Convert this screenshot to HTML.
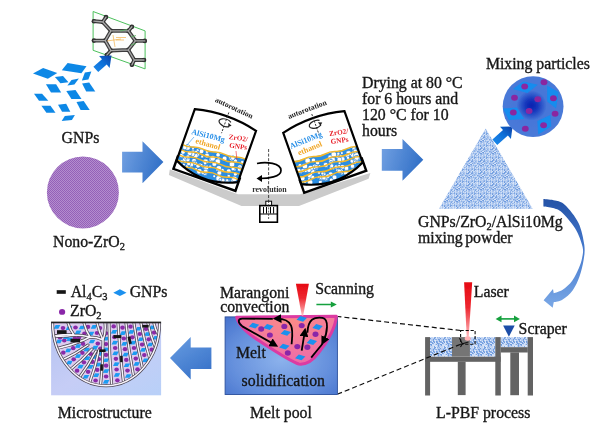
<!DOCTYPE html>
<html>
<head>
<meta charset="utf-8">
<title>Schematic</title>
<style>
html,body{margin:0;padding:0;background:#fff;}
body{width:610px;height:433px;overflow:hidden;font-family:"Liberation Serif",serif;}
svg{display:block;}
text{font-family:"Liberation Serif",serif;fill:#161616;}
.b{font-weight:bold;}
</style>
</head>
<body>
<svg width="610" height="433" viewBox="0 0 610 433">
<defs>
  <filter id="soft" x="-5%" y="-5%" width="110%" height="110%"><feGaussianBlur stdDeviation="0.55"/></filter>
  <filter id="soft2" x="-5%" y="-5%" width="110%" height="110%"><feGaussianBlur stdDeviation="0.7"/></filter>
  <linearGradient id="gArrR" x1="0" y1="0" x2="1" y2="0.3">
    <stop offset="0" stop-color="#74a2e3"/>
    <stop offset="1" stop-color="#3472c8"/>
  </linearGradient>
  <linearGradient id="gArrL" x1="0" y1="0" x2="0.6" y2="1">
    <stop offset="0" stop-color="#6a9ee2"/>
    <stop offset="1" stop-color="#3a74ca"/>
  </linearGradient>
  <linearGradient id="gSmall" x1="0" y1="1" x2="1" y2="0">
    <stop offset="0" stop-color="#1a8cee"/>
    <stop offset="0.55" stop-color="#0f6fd8"/>
    <stop offset="1" stop-color="#0a3fa4"/>
  </linearGradient>
  <radialGradient id="gMix" cx="531.6" cy="105.5" r="30" gradientUnits="userSpaceOnUse">
    <stop offset="0" stop-color="#0820b0"/>
    <stop offset="0.2" stop-color="#1436bc"/>
    <stop offset="0.5" stop-color="#4676d8"/>
    <stop offset="1" stop-color="#4a7ad8"/>
  </radialGradient>
  <pattern id="pPurple" width="2" height="2" patternUnits="userSpaceOnUse">
    <rect width="2" height="2" fill="#b48dce"/>
    <rect width="1" height="1" fill="#9461b8"/>
    <rect x="1" y="1" width="1" height="1" fill="#9461b8"/>
  </pattern>
  <pattern id="pTri" width="12" height="12" patternUnits="userSpaceOnUse"><rect width="12" height="12" fill="#a9c4ee"/><rect x="0" y="0" width="1" height="1" fill="#b9cff1"/><rect x="1" y="0" width="1" height="1" fill="#b9cff1"/><rect x="2" y="0" width="1" height="1" fill="#b9cff1"/><rect x="4" y="0" width="1" height="1" fill="#8fb3e8"/><rect x="5" y="0" width="1" height="1" fill="#b9cff1"/><rect x="6" y="0" width="1" height="1" fill="#8fb3e8"/><rect x="7" y="0" width="1" height="1" fill="#c9dbf5"/><rect x="8" y="0" width="1" height="1" fill="#b9cff1"/><rect x="9" y="0" width="1" height="1" fill="#d6e3f8"/><rect x="10" y="0" width="1" height="1" fill="#8fb3e8"/><rect x="11" y="0" width="1" height="1" fill="#c9dbf5"/><rect x="0" y="1" width="1" height="1" fill="#7ba5e2"/><rect x="2" y="1" width="1" height="1" fill="#b9cff1"/><rect x="3" y="1" width="1" height="1" fill="#8fb3e8"/><rect x="4" y="1" width="1" height="1" fill="#7ba5e2"/><rect x="5" y="1" width="1" height="1" fill="#c9dbf5"/><rect x="6" y="1" width="1" height="1" fill="#7ba5e2"/><rect x="7" y="1" width="1" height="1" fill="#7ba5e2"/><rect x="10" y="1" width="1" height="1" fill="#7ba5e2"/><rect x="11" y="1" width="1" height="1" fill="#b9cff1"/><rect x="0" y="2" width="1" height="1" fill="#6f9cde"/><rect x="1" y="2" width="1" height="1" fill="#b9cff1"/><rect x="4" y="2" width="1" height="1" fill="#d6e3f8"/><rect x="5" y="2" width="1" height="1" fill="#b9cff1"/><rect x="6" y="2" width="1" height="1" fill="#7ba5e2"/><rect x="7" y="2" width="1" height="1" fill="#c9dbf5"/><rect x="8" y="2" width="1" height="1" fill="#b9cff1"/><rect x="9" y="2" width="1" height="1" fill="#d6e3f8"/><rect x="11" y="2" width="1" height="1" fill="#c9dbf5"/><rect x="0" y="3" width="1" height="1" fill="#d6e3f8"/><rect x="1" y="3" width="1" height="1" fill="#6f9cde"/><rect x="3" y="3" width="1" height="1" fill="#d6e3f8"/><rect x="4" y="3" width="1" height="1" fill="#7ba5e2"/><rect x="5" y="3" width="1" height="1" fill="#c9dbf5"/><rect x="6" y="3" width="1" height="1" fill="#c9dbf5"/><rect x="8" y="3" width="1" height="1" fill="#c9dbf5"/><rect x="9" y="3" width="1" height="1" fill="#d6e3f8"/><rect x="11" y="3" width="1" height="1" fill="#c9dbf5"/><rect x="0" y="4" width="1" height="1" fill="#7ba5e2"/><rect x="1" y="4" width="1" height="1" fill="#7ba5e2"/><rect x="4" y="4" width="1" height="1" fill="#7ba5e2"/><rect x="5" y="4" width="1" height="1" fill="#b9cff1"/><rect x="9" y="4" width="1" height="1" fill="#c9dbf5"/><rect x="11" y="4" width="1" height="1" fill="#d6e3f8"/><rect x="0" y="5" width="1" height="1" fill="#6f9cde"/><rect x="1" y="5" width="1" height="1" fill="#c9dbf5"/><rect x="2" y="5" width="1" height="1" fill="#d6e3f8"/><rect x="3" y="5" width="1" height="1" fill="#6f9cde"/><rect x="4" y="5" width="1" height="1" fill="#7ba5e2"/><rect x="6" y="5" width="1" height="1" fill="#c9dbf5"/><rect x="7" y="5" width="1" height="1" fill="#8fb3e8"/><rect x="9" y="5" width="1" height="1" fill="#c9dbf5"/><rect x="10" y="5" width="1" height="1" fill="#7ba5e2"/><rect x="11" y="5" width="1" height="1" fill="#7ba5e2"/><rect x="0" y="6" width="1" height="1" fill="#b9cff1"/><rect x="1" y="6" width="1" height="1" fill="#b9cff1"/><rect x="2" y="6" width="1" height="1" fill="#8fb3e8"/><rect x="4" y="6" width="1" height="1" fill="#b9cff1"/><rect x="6" y="6" width="1" height="1" fill="#8fb3e8"/><rect x="9" y="6" width="1" height="1" fill="#c9dbf5"/><rect x="1" y="7" width="1" height="1" fill="#7ba5e2"/><rect x="2" y="7" width="1" height="1" fill="#d6e3f8"/><rect x="3" y="7" width="1" height="1" fill="#d6e3f8"/><rect x="4" y="7" width="1" height="1" fill="#7ba5e2"/><rect x="6" y="7" width="1" height="1" fill="#8fb3e8"/><rect x="8" y="7" width="1" height="1" fill="#c9dbf5"/><rect x="9" y="7" width="1" height="1" fill="#7ba5e2"/><rect x="10" y="7" width="1" height="1" fill="#8fb3e8"/><rect x="0" y="8" width="1" height="1" fill="#b9cff1"/><rect x="1" y="8" width="1" height="1" fill="#d6e3f8"/><rect x="2" y="8" width="1" height="1" fill="#7ba5e2"/><rect x="3" y="8" width="1" height="1" fill="#6f9cde"/><rect x="4" y="8" width="1" height="1" fill="#d6e3f8"/><rect x="6" y="8" width="1" height="1" fill="#c9dbf5"/><rect x="7" y="8" width="1" height="1" fill="#c9dbf5"/><rect x="8" y="8" width="1" height="1" fill="#c9dbf5"/><rect x="11" y="8" width="1" height="1" fill="#7ba5e2"/><rect x="0" y="9" width="1" height="1" fill="#6f9cde"/><rect x="1" y="9" width="1" height="1" fill="#6f9cde"/><rect x="2" y="9" width="1" height="1" fill="#b9cff1"/><rect x="3" y="9" width="1" height="1" fill="#8fb3e8"/><rect x="4" y="9" width="1" height="1" fill="#b9cff1"/><rect x="5" y="9" width="1" height="1" fill="#8fb3e8"/><rect x="7" y="9" width="1" height="1" fill="#8fb3e8"/><rect x="8" y="9" width="1" height="1" fill="#8fb3e8"/><rect x="9" y="9" width="1" height="1" fill="#d6e3f8"/><rect x="1" y="10" width="1" height="1" fill="#8fb3e8"/><rect x="4" y="10" width="1" height="1" fill="#b9cff1"/><rect x="5" y="10" width="1" height="1" fill="#c9dbf5"/><rect x="7" y="10" width="1" height="1" fill="#7ba5e2"/><rect x="8" y="10" width="1" height="1" fill="#c9dbf5"/><rect x="9" y="10" width="1" height="1" fill="#c9dbf5"/><rect x="10" y="10" width="1" height="1" fill="#7ba5e2"/><rect x="11" y="10" width="1" height="1" fill="#d6e3f8"/><rect x="2" y="11" width="1" height="1" fill="#d6e3f8"/><rect x="4" y="11" width="1" height="1" fill="#b9cff1"/><rect x="5" y="11" width="1" height="1" fill="#d6e3f8"/><rect x="6" y="11" width="1" height="1" fill="#8fb3e8"/><rect x="7" y="11" width="1" height="1" fill="#c9dbf5"/><rect x="8" y="11" width="1" height="1" fill="#8fb3e8"/><rect x="10" y="11" width="1" height="1" fill="#b9cff1"/><rect x="11" y="11" width="1" height="1" fill="#c9dbf5"/></pattern>
  <pattern id="pPow" width="10" height="10" patternUnits="userSpaceOnUse"><rect width="10" height="10" fill="#b4cbf0"/><rect x="0" y="0" width="1" height="1" fill="#dfe9fa"/><rect x="3" y="0" width="1" height="1" fill="#7ba5e2"/><rect x="4" y="0" width="1" height="1" fill="#d2e0f7"/><rect x="5" y="0" width="1" height="1" fill="#dfe9fa"/><rect x="7" y="0" width="1" height="1" fill="#c2d5f3"/><rect x="9" y="0" width="1" height="1" fill="#7ba5e2"/><rect x="0" y="1" width="1" height="1" fill="#7ba5e2"/><rect x="1" y="1" width="1" height="1" fill="#8fb3e8"/><rect x="2" y="1" width="1" height="1" fill="#dfe9fa"/><rect x="3" y="1" width="1" height="1" fill="#6f9cde"/><rect x="4" y="1" width="1" height="1" fill="#8fb3e8"/><rect x="5" y="1" width="1" height="1" fill="#d2e0f7"/><rect x="6" y="1" width="1" height="1" fill="#6f9cde"/><rect x="7" y="1" width="1" height="1" fill="#8fb3e8"/><rect x="8" y="1" width="1" height="1" fill="#c2d5f3"/><rect x="9" y="1" width="1" height="1" fill="#6f9cde"/><rect x="0" y="2" width="1" height="1" fill="#8fb3e8"/><rect x="1" y="2" width="1" height="1" fill="#7ba5e2"/><rect x="2" y="2" width="1" height="1" fill="#7ba5e2"/><rect x="3" y="2" width="1" height="1" fill="#c2d5f3"/><rect x="4" y="2" width="1" height="1" fill="#6f9cde"/><rect x="5" y="2" width="1" height="1" fill="#dfe9fa"/><rect x="6" y="2" width="1" height="1" fill="#7ba5e2"/><rect x="7" y="2" width="1" height="1" fill="#7ba5e2"/><rect x="8" y="2" width="1" height="1" fill="#d2e0f7"/><rect x="9" y="2" width="1" height="1" fill="#c2d5f3"/><rect x="0" y="3" width="1" height="1" fill="#d2e0f7"/><rect x="1" y="3" width="1" height="1" fill="#dfe9fa"/><rect x="2" y="3" width="1" height="1" fill="#6f9cde"/><rect x="3" y="3" width="1" height="1" fill="#8fb3e8"/><rect x="4" y="3" width="1" height="1" fill="#d2e0f7"/><rect x="5" y="3" width="1" height="1" fill="#d2e0f7"/><rect x="6" y="3" width="1" height="1" fill="#c2d5f3"/><rect x="7" y="3" width="1" height="1" fill="#6f9cde"/><rect x="8" y="3" width="1" height="1" fill="#7ba5e2"/><rect x="9" y="3" width="1" height="1" fill="#8fb3e8"/><rect x="0" y="4" width="1" height="1" fill="#6f9cde"/><rect x="1" y="4" width="1" height="1" fill="#6f9cde"/><rect x="2" y="4" width="1" height="1" fill="#d2e0f7"/><rect x="3" y="4" width="1" height="1" fill="#c2d5f3"/><rect x="4" y="4" width="1" height="1" fill="#d2e0f7"/><rect x="6" y="4" width="1" height="1" fill="#7ba5e2"/><rect x="7" y="4" width="1" height="1" fill="#c2d5f3"/><rect x="8" y="4" width="1" height="1" fill="#7ba5e2"/><rect x="1" y="5" width="1" height="1" fill="#7ba5e2"/><rect x="2" y="5" width="1" height="1" fill="#d2e0f7"/><rect x="3" y="5" width="1" height="1" fill="#d2e0f7"/><rect x="4" y="5" width="1" height="1" fill="#d2e0f7"/><rect x="5" y="5" width="1" height="1" fill="#d2e0f7"/><rect x="6" y="5" width="1" height="1" fill="#dfe9fa"/><rect x="8" y="5" width="1" height="1" fill="#6f9cde"/><rect x="0" y="6" width="1" height="1" fill="#c2d5f3"/><rect x="1" y="6" width="1" height="1" fill="#c2d5f3"/><rect x="2" y="6" width="1" height="1" fill="#c2d5f3"/><rect x="3" y="6" width="1" height="1" fill="#d2e0f7"/><rect x="4" y="6" width="1" height="1" fill="#7ba5e2"/><rect x="5" y="6" width="1" height="1" fill="#dfe9fa"/><rect x="6" y="6" width="1" height="1" fill="#d2e0f7"/><rect x="7" y="6" width="1" height="1" fill="#c2d5f3"/><rect x="8" y="6" width="1" height="1" fill="#7ba5e2"/><rect x="0" y="7" width="1" height="1" fill="#d2e0f7"/><rect x="1" y="7" width="1" height="1" fill="#c2d5f3"/><rect x="2" y="7" width="1" height="1" fill="#c2d5f3"/><rect x="3" y="7" width="1" height="1" fill="#dfe9fa"/><rect x="4" y="7" width="1" height="1" fill="#7ba5e2"/><rect x="5" y="7" width="1" height="1" fill="#6f9cde"/><rect x="6" y="7" width="1" height="1" fill="#dfe9fa"/><rect x="7" y="7" width="1" height="1" fill="#8fb3e8"/><rect x="9" y="7" width="1" height="1" fill="#8fb3e8"/><rect x="0" y="8" width="1" height="1" fill="#6f9cde"/><rect x="1" y="8" width="1" height="1" fill="#c2d5f3"/><rect x="2" y="8" width="1" height="1" fill="#c2d5f3"/><rect x="4" y="8" width="1" height="1" fill="#6f9cde"/><rect x="6" y="8" width="1" height="1" fill="#dfe9fa"/><rect x="3" y="9" width="1" height="1" fill="#6f9cde"/><rect x="5" y="9" width="1" height="1" fill="#8fb3e8"/><rect x="6" y="9" width="1" height="1" fill="#8fb3e8"/><rect x="7" y="9" width="1" height="1" fill="#c2d5f3"/><rect x="8" y="9" width="1" height="1" fill="#6f9cde"/><rect x="9" y="9" width="1" height="1" fill="#7ba5e2"/></pattern>
  <radialGradient id="gMelt" cx="0.5" cy="0.55" r="0.75">
    <stop offset="0" stop-color="#8cb2ec"/>
    <stop offset="0.6" stop-color="#648fdc"/>
    <stop offset="1" stop-color="#4470cc"/>
  </radialGradient>
  <linearGradient id="gLaser" x1="0" y1="0" x2="0" y2="1">
    <stop offset="0" stop-color="#e60a14"/>
    <stop offset="0.45" stop-color="#ee2830"/>
    <stop offset="1" stop-color="#ffc0c4"/>
  </linearGradient>
  <radialGradient id="gPink" cx="0.55" cy="0.1" r="0.9">
    <stop offset="0" stop-color="#fb8a88"/>
    <stop offset="0.5" stop-color="#f47a9c"/>
    <stop offset="1" stop-color="#ee6aa8"/>
  </radialGradient>
  <linearGradient id="gCurve" x1="0" y1="0" x2="0" y2="1">
    <stop offset="0" stop-color="#2452a6"/>
    <stop offset="0.45" stop-color="#4478cc"/>
    <stop offset="1" stop-color="#7aa8e6"/>
  </linearGradient>
  <linearGradient id="gMicro" x1="0" y1="0" x2="1" y2="1">
    <stop offset="0" stop-color="#b4c2f0"/>
    <stop offset="0.5" stop-color="#c6cdf6"/>
    <stop offset="1" stop-color="#b8d0f8"/>
  </linearGradient>
  <clipPath id="jarClip"><path d="M0,0 Q32.5,-8 65,0 L65,54.5 Q32.5,70.5 0,54.5 Z"/></clipPath>
  <clipPath id="semiClip"><path d="M52.6,322.8 A53.5,63 0 0 0 159.6,322.8 Z"/></clipPath>
  <marker id="ah" viewBox="0 0 10 10" refX="6" refY="5" markerWidth="4.9" markerHeight="4.9" orient="auto-start-reverse"><path d="M0,0 L10,5 L0,10 Z" fill="#000"/></marker>
</defs>
<rect width="610" height="433" fill="#ffffff"/>
<g filter="url(#soft)">

<g id="flakes">
<polygon points="33.0,73.6 43.1,68.0 57.3,73.1 47.8,78.8" fill="#0f88e6" />
<polygon points="67.6,63.0 86.5,66.2 81.4,73.2 61.8,70.3" fill="#0f88e6" />
<polygon points="54.9,77.1 63.0,76.1 68.5,82.2 60.4,83.2" fill="#0f88e6" />
<polygon points="71.5,79.9 78.9,78.5 74.4,84.4 67.4,85.6" fill="#0f88e6" />
<polygon points="84.9,72.4 91.4,71.4 88.4,79.5 81.9,80.5" fill="#0f88e6" />
<polygon points="45.9,84.3 56.1,84.3 61.2,92.5 51.0,92.5" fill="#0f88e6" />
<polygon points="82.1,83.5 89.2,82.5 95.3,91.6 86.2,91.6" fill="#0f88e6" />
<polygon points="66.3,90.9 75.5,89.9 81.5,99.0 71.4,99.0" fill="#0f88e6" />
<polygon points="34.0,93.7 42.1,93.7 48.3,100.7 39.0,100.7" fill="#0f88e6" />
<polygon points="76.5,102.0 83.7,101.0 89.7,110.1 80.6,110.1" fill="#0f88e6" />
<polygon points="41.4,105.7 50.5,105.7 55.5,112.7 46.4,112.7" fill="#0f88e6" />
<polygon points="58.0,104.7 66.2,103.7 70.3,111.8 62.1,111.8" fill="#0f88e6" />
<polygon points="64.8,115.9 74.9,114.9 71.9,120.0 61.7,121.1" fill="#0f88e6" />
</g>
<g id="lattice">
<polygon points="93.1,11.5 145.1,30.9 145.1,68.9 93.1,50.3" fill="#fdfefd" stroke="#4cc05c" stroke-width="1"/>
<path d="M105.2,40.6 L110.9,30.9 M110.9,30.9 L128.3,30.9 M128.3,30.9 L135.4,40.9 M135.4,40.9 L128.3,49.9 M128.3,49.9 L110.9,50.6 M110.9,50.6 L105.2,40.6 M110.9,30.9 L102.8,22.0 M102.8,22.0 L93.9,21.2 M102.8,22.0 L106.0,17.1 M105.2,40.6 L93.9,40.6 M110.9,50.6 L106.8,55.1 M128.3,30.9 L131.9,26.8 M135.4,40.9 L144.8,40.9 M128.3,49.9 L134.3,60.0 M134.3,60.0 L144.0,60.0 M134.3,60.0 L131.9,64.8" stroke="#3e3e3e" stroke-width="3.8" stroke-linecap="round" fill="none"/>
<circle cx="105.2" cy="40.6" r="2.3" fill="#303030"/>
<circle cx="110.9" cy="30.9" r="2.3" fill="#303030"/>
<circle cx="128.3" cy="30.9" r="2.3" fill="#303030"/>
<circle cx="135.4" cy="40.9" r="2.3" fill="#303030"/>
<circle cx="128.3" cy="49.9" r="2.3" fill="#303030"/>
<circle cx="110.9" cy="50.6" r="2.3" fill="#303030"/>
<circle cx="102.8" cy="22.0" r="2.3" fill="#303030"/>
<circle cx="134.3" cy="60.0" r="2.3" fill="#303030"/>
<circle cx="93.9" cy="21.2" r="2.3" fill="#303030"/>
<circle cx="106.0" cy="17.1" r="2.3" fill="#303030"/>
<circle cx="93.9" cy="40.6" r="2.3" fill="#303030"/>
<circle cx="106.8" cy="55.1" r="2.3" fill="#303030"/>
<circle cx="131.9" cy="26.8" r="2.3" fill="#303030"/>
<circle cx="144.8" cy="40.9" r="2.3" fill="#303030"/>
<circle cx="144.0" cy="60.0" r="2.3" fill="#303030"/>
<circle cx="131.9" cy="64.8" r="2.3" fill="#303030"/>
<path d="M105.2,40.6 L110.9,30.9 M110.9,30.9 L128.3,30.9 M128.3,30.9 L135.4,40.9 M135.4,40.9 L128.3,49.9 M128.3,49.9 L110.9,50.6 M110.9,50.6 L105.2,40.6 M110.9,30.9 L102.8,22.0 M102.8,22.0 L93.9,21.2 M102.8,22.0 L106.0,17.1 M105.2,40.6 L93.9,40.6 M110.9,50.6 L106.8,55.1 M128.3,30.9 L131.9,26.8 M135.4,40.9 L144.8,40.9 M128.3,49.9 L134.3,60.0 M134.3,60.0 L144.0,60.0 M134.3,60.0 L131.9,64.8" stroke="#a8a8a8" stroke-width="1.3" stroke-linecap="round" fill="none"/>
<path d="M107,41 L121,39 M113,35 L115,47 M116,37.5 L126,37.5 M116,40 L124,40" stroke="#f2b24c" stroke-width="0.7" fill="none"/>
<path d="M120,31 L127,29.5 M131,37 L136,35.5 M131,45 L136,43.5" stroke="#58b860" stroke-width="0.8" fill="none"/>
</g>
<polygon points="93.4,66.7 102.0,59.2 99.1,55.9 111.5,55.6 109.6,67.9 106.7,64.6 98.2,72.1" fill="url(#gSmall)" />
<circle cx="82.9" cy="192.4" r="36" fill="url(#pPurple)"/>
<path d="M122.1,151.7 L142.5,151.7 L142.5,141.3 L163.4,162 L142.5,183.2 L142.5,172.4 L122.1,172.4 Z" fill="url(#gArrR)"/>
<path d="M381.8,148.9 L402.5,148.9 L402.5,139 L423.3,159.8 L402.5,180.7 L402.5,170.8 L381.8,170.8 Z" fill="url(#gArrR)"/>
<path d="M211.4,347.4 L190.7,347.4 L190.7,337 L170,357.9 L190.7,379.5 L190.7,369 L211.4,369 Z" fill="url(#gArrL)"/>
<g id="mill">
<path d="M169.8,169.6 L238,194.3 L300,194.3 L370.4,173.1 L368.6,178.7 L299,206 L241.5,206 L168.9,175.1 Z" fill="#cbcbcb"/>
<g transform="translate(194.8,109.1) rotate(19.5)">
<rect x="-0.2" y="50.5" width="65.8" height="13" fill="#fff" stroke="#000" stroke-width="2.4"/>
<path d="M0,0 Q32.5,-8 65,0 L65,54.5 Q32.5,70.5 0,54.5 Z" fill="#fff"/>
<g clip-path="url(#jarClip)">
<polygon points="0,37.5 65,30.4 65,70 0,70" fill="#2a8fe4"/>
<circle cx="16.5" cy="48.9" r="2.4" fill="#fff" stroke="#1272cc" stroke-width="0.55"/>
<circle cx="57.9" cy="43.7" r="1.4" fill="#fff" stroke="#1272cc" stroke-width="0.55"/>
<circle cx="6.0" cy="38.6" r="2.8" fill="#fff" stroke="#1272cc" stroke-width="0.55"/>
<circle cx="17.8" cy="42.2" r="2.2" fill="#fff" stroke="#1272cc" stroke-width="0.55"/>
<circle cx="30.7" cy="56.6" r="2.8" fill="#fff" stroke="#1272cc" stroke-width="0.55"/>
<circle cx="26.2" cy="57.0" r="2.0" fill="#fff" stroke="#1272cc" stroke-width="0.55"/>
<circle cx="40.7" cy="56.8" r="1.4" fill="#fff" stroke="#1272cc" stroke-width="0.55"/>
<circle cx="25.8" cy="36.5" r="1.6" fill="#fff" stroke="#1272cc" stroke-width="0.55"/>
<circle cx="11.7" cy="56.6" r="1.6" fill="#fff" stroke="#1272cc" stroke-width="0.55"/>
<circle cx="20.4" cy="37.5" r="2.4" fill="#fff" stroke="#1272cc" stroke-width="0.55"/>
<circle cx="30.8" cy="53.6" r="2.8" fill="#fff" stroke="#1272cc" stroke-width="0.55"/>
<circle cx="45.6" cy="57.4" r="2.8" fill="#fff" stroke="#1272cc" stroke-width="0.55"/>
<circle cx="46.4" cy="48.5" r="2.0" fill="#fff" stroke="#1272cc" stroke-width="0.55"/>
<circle cx="55.6" cy="35.2" r="2.0" fill="#fff" stroke="#1272cc" stroke-width="0.55"/>
<circle cx="32.2" cy="42.0" r="2.2" fill="#fff" stroke="#1272cc" stroke-width="0.55"/>
<circle cx="28.6" cy="51.4" r="2.4" fill="#fff" stroke="#1272cc" stroke-width="0.55"/>
<circle cx="27.7" cy="56.4" r="1.4" fill="#fff" stroke="#1272cc" stroke-width="0.55"/>
<circle cx="23.4" cy="50.3" r="1.4" fill="#fff" stroke="#1272cc" stroke-width="0.55"/>
<circle cx="16.2" cy="44.5" r="1.6" fill="#fff" stroke="#1272cc" stroke-width="0.55"/>
<circle cx="54.2" cy="56.9" r="2.2" fill="#fff" stroke="#1272cc" stroke-width="0.55"/>
<circle cx="44.4" cy="51.9" r="2.4" fill="#fff" stroke="#1272cc" stroke-width="0.55"/>
<circle cx="60.8" cy="52.5" r="1.4" fill="#fff" stroke="#1272cc" stroke-width="0.55"/>
<circle cx="8.3" cy="50.0" r="2.2" fill="#fff" stroke="#1272cc" stroke-width="0.55"/>
<circle cx="52.7" cy="47.2" r="2.4" fill="#fff" stroke="#1272cc" stroke-width="0.55"/>
<circle cx="9.6" cy="47.0" r="2.2" fill="#fff" stroke="#1272cc" stroke-width="0.55"/>
<circle cx="62.4" cy="34.1" r="1.6" fill="#fff" stroke="#1272cc" stroke-width="0.55"/>
<circle cx="27.0" cy="39.7" r="2.4" fill="#fff" stroke="#1272cc" stroke-width="0.55"/>
<circle cx="28.1" cy="46.2" r="1.6" fill="#fff" stroke="#1272cc" stroke-width="0.55"/>
<circle cx="4.7" cy="48.5" r="1.6" fill="#fff" stroke="#1272cc" stroke-width="0.55"/>
<circle cx="25.0" cy="50.3" r="1.4" fill="#fff" stroke="#1272cc" stroke-width="0.55"/>
<circle cx="55.7" cy="56.2" r="1.4" fill="#fff" stroke="#1272cc" stroke-width="0.55"/>
<circle cx="16.4" cy="38.0" r="1.6" fill="#fff" stroke="#1272cc" stroke-width="0.55"/>
<circle cx="6.7" cy="48.7" r="1.6" fill="#fff" stroke="#1272cc" stroke-width="0.55"/>
<circle cx="59.9" cy="54.4" r="2.4" fill="#fff" stroke="#1272cc" stroke-width="0.55"/>
<circle cx="39.2" cy="38.7" r="1.6" fill="#fff" stroke="#1272cc" stroke-width="0.55"/>
<circle cx="61.8" cy="39.7" r="2.4" fill="#fff" stroke="#1272cc" stroke-width="0.55"/>
<circle cx="60.5" cy="52.5" r="2.8" fill="#fff" stroke="#1272cc" stroke-width="0.55"/>
<circle cx="25.0" cy="57.1" r="2.8" fill="#fff" stroke="#1272cc" stroke-width="0.55"/>
<circle cx="41.3" cy="49.8" r="1.4" fill="#fff" stroke="#1272cc" stroke-width="0.55"/>
<circle cx="8.3" cy="55.8" r="1.4" fill="#fff" stroke="#1272cc" stroke-width="0.55"/>
<circle cx="18.5" cy="51.1" r="2.2" fill="#fff" stroke="#1272cc" stroke-width="0.55"/>
<circle cx="16.5" cy="43.7" r="2.4" fill="#fff" stroke="#1272cc" stroke-width="0.55"/>
<circle cx="33.8" cy="49.2" r="1.6" fill="#fff" stroke="#1272cc" stroke-width="0.55"/>
<circle cx="50.1" cy="58.0" r="2.4" fill="#fff" stroke="#1272cc" stroke-width="0.55"/>
<circle cx="3.2" cy="48.2" r="2.2" fill="#fff" stroke="#1272cc" stroke-width="0.55"/>
<circle cx="10.1" cy="49.9" r="2.4" fill="#fff" stroke="#1272cc" stroke-width="0.55"/>
<circle cx="30.4" cy="52.7" r="2.4" fill="#fff" stroke="#1272cc" stroke-width="0.55"/>
<circle cx="39.1" cy="41.9" r="2.8" fill="#fff" stroke="#1272cc" stroke-width="0.55"/>
<circle cx="3.4" cy="39.6" r="2.2" fill="#fff" stroke="#1272cc" stroke-width="0.55"/>
<circle cx="3.3" cy="44.4" r="2.2" fill="#fff" stroke="#1272cc" stroke-width="0.55"/>
<circle cx="29.8" cy="50.5" r="2.4" fill="#fff" stroke="#1272cc" stroke-width="0.55"/>
<circle cx="12.8" cy="41.3" r="2.4" fill="#fff" stroke="#1272cc" stroke-width="0.55"/>
<circle cx="53.5" cy="39.6" r="2.8" fill="#fff" stroke="#1272cc" stroke-width="0.55"/>
<circle cx="8.4" cy="52.9" r="1.4" fill="#fff" stroke="#1272cc" stroke-width="0.55"/>
<circle cx="43.7" cy="37.6" r="1.4" fill="#fff" stroke="#1272cc" stroke-width="0.55"/>
<circle cx="15.6" cy="54.4" r="2.0" fill="#fff" stroke="#1272cc" stroke-width="0.55"/>
<circle cx="22.0" cy="52.4" r="2.2" fill="#fff" stroke="#1272cc" stroke-width="0.55"/>
<circle cx="44.6" cy="36.7" r="2.4" fill="#fff" stroke="#1272cc" stroke-width="0.55"/>
<circle cx="59.9" cy="47.7" r="2.0" fill="#fff" stroke="#1272cc" stroke-width="0.55"/>
<circle cx="28.7" cy="57.0" r="2.0" fill="#fff" stroke="#1272cc" stroke-width="0.55"/>
<circle cx="6.9" cy="51.2" r="2.0" fill="#fff" stroke="#1272cc" stroke-width="0.55"/>
<circle cx="56.0" cy="43.5" r="2.0" fill="#fff" stroke="#1272cc" stroke-width="0.55"/>
<circle cx="50.0" cy="34.4" r="2.0" fill="#fff" stroke="#1272cc" stroke-width="0.55"/>
<circle cx="21.2" cy="56.0" r="1.4" fill="#fff" stroke="#1272cc" stroke-width="0.55"/>
<circle cx="13.2" cy="43.2" r="2.2" fill="#fff" stroke="#1272cc" stroke-width="0.55"/>
<circle cx="7.2" cy="49.1" r="1.4" fill="#fff" stroke="#1272cc" stroke-width="0.55"/>
<circle cx="9.9" cy="43.4" r="2.4" fill="#fff" stroke="#1272cc" stroke-width="0.55"/>
<circle cx="30.3" cy="51.5" r="2.4" fill="#fff" stroke="#1272cc" stroke-width="0.55"/>
<circle cx="27.6" cy="46.0" r="2.8" fill="#fff" stroke="#1272cc" stroke-width="0.55"/>
<circle cx="11.5" cy="37.8" r="1.4" fill="#fff" stroke="#1272cc" stroke-width="0.55"/>
<circle cx="62.2" cy="41.7" r="2.2" fill="#fff" stroke="#1272cc" stroke-width="0.55"/>
<circle cx="15.5" cy="53.1" r="2.2" fill="#fff" stroke="#1272cc" stroke-width="0.55"/>
<circle cx="47.6" cy="58.0" r="1.4" fill="#fff" stroke="#1272cc" stroke-width="0.55"/>
<circle cx="22.8" cy="41.8" r="1.6" fill="#fff" stroke="#1272cc" stroke-width="0.55"/>
<circle cx="54.3" cy="56.4" r="1.6" fill="#fff" stroke="#1272cc" stroke-width="0.55"/>
<circle cx="51.4" cy="34.5" r="2.2" fill="#fff" stroke="#1272cc" stroke-width="0.55"/>
<circle cx="33.3" cy="40.4" r="2.8" fill="#fff" stroke="#1272cc" stroke-width="0.55"/>
<circle cx="37.2" cy="35.3" r="2.2" fill="#fff" stroke="#1272cc" stroke-width="0.55"/>
<circle cx="9.4" cy="47.4" r="2.0" fill="#fff" stroke="#1272cc" stroke-width="0.55"/>
<circle cx="42.4" cy="47.8" r="2.8" fill="#fff" stroke="#1272cc" stroke-width="0.55"/>
<circle cx="5.2" cy="53.6" r="1.6" fill="#fff" stroke="#1272cc" stroke-width="0.55"/>
<circle cx="22.8" cy="42.4" r="1.4" fill="#fff" stroke="#1272cc" stroke-width="0.55"/>
<circle cx="31.1" cy="55.2" r="2.4" fill="#fff" stroke="#1272cc" stroke-width="0.55"/>
<circle cx="15.5" cy="39.9" r="1.6" fill="#fff" stroke="#1272cc" stroke-width="0.55"/>
<circle cx="12.4" cy="53.5" r="2.0" fill="#fff" stroke="#1272cc" stroke-width="0.55"/>
<circle cx="52.2" cy="33.5" r="2.2" fill="#fff" stroke="#1272cc" stroke-width="0.55"/>
<circle cx="36.8" cy="45.2" r="2.4" fill="#fff" stroke="#1272cc" stroke-width="0.55"/>
<circle cx="17.1" cy="50.6" r="1.4" fill="#fff" stroke="#1272cc" stroke-width="0.55"/>
<circle cx="27.8" cy="47.6" r="1.6" fill="#fff" stroke="#1272cc" stroke-width="0.55"/>
<circle cx="54.3" cy="51.7" r="1.6" fill="#fff" stroke="#1272cc" stroke-width="0.55"/>
<path d="M-1,37.5 Q5.4,38.5 10.8,36.3 Q16.2,34.1 21.7,35.1 Q27.1,36.1 32.5,34.0 Q37.9,31.8 43.3,32.8 Q48.8,33.8 54.2,31.6 Q59.6,29.4 65.0,30.4 " stroke="#f2b82c" stroke-width="1.5" fill="none"/>
<path d="M-1,42.9 Q5.4,43.9 10.8,41.7 Q16.2,39.5 21.7,40.5 Q27.1,41.5 32.5,39.3 Q37.9,37.2 43.3,38.2 Q48.8,39.2 54.2,37.0 Q59.6,34.8 65.0,35.8 " stroke="#f2b82c" stroke-width="1.5" fill="none"/>
<path d="M-1,48.3 Q5.4,49.3 10.8,47.1 Q16.2,44.9 21.7,45.9 Q27.1,46.9 32.5,44.8 Q37.9,42.6 43.3,43.6 Q48.8,44.6 54.2,42.4 Q59.6,40.2 65.0,41.2 " stroke="#f2b82c" stroke-width="1.5" fill="none"/>
<path d="M-1,53.7 Q5.4,54.7 10.8,52.5 Q16.2,50.3 21.7,51.3 Q27.1,52.3 32.5,50.2 Q37.9,48.0 43.3,49.0 Q48.8,50.0 54.2,47.8 Q59.6,45.6 65.0,46.6 " stroke="#f2b82c" stroke-width="1.5" fill="none"/>
<path d="M-1,59.1 Q5.4,60.1 10.8,57.9 Q16.2,55.7 21.7,56.7 Q27.1,57.7 32.5,55.5 Q37.9,53.4 43.3,54.4 Q48.8,55.4 54.2,53.2 Q59.6,51.0 65.0,52.0 " stroke="#f2b82c" stroke-width="1.5" fill="none"/>
</g>
<path d="M0,0 Q32.5,-8 65,0 L65,54.5 Q32.5,70.5 0,54.5 Z" fill="none" stroke="#000" stroke-width="2.2"/>
<path d="M33.2,-8.2 L33.2,13.8" stroke="#222" stroke-width="0.8" stroke-dasharray="2.2 1.3"/>
<path d="M38.4,0.4 A6.6,3.6 0 1 0 38.2,5.2" stroke="#222" stroke-width="1.2" fill="none"/>
<path d="M40.2,3.4 l-4,-1.8 l1.3,4.2 z" fill="#222"/>
</g>
<g transform="translate(283.2,132.8) rotate(-19.5)">
<rect x="-0.2" y="50.5" width="65.8" height="13" fill="#fff" stroke="#000" stroke-width="2.4"/>
<path d="M0,0 Q32.5,-8 65,0 L65,54.5 Q32.5,70.5 0,54.5 Z" fill="#fff"/>
<g clip-path="url(#jarClip)">
<polygon points="0,30.4 65,37.5 65,70 0,70" fill="#2a8fe4"/>
<circle cx="40.0" cy="54.1" r="2.2" fill="#fff" stroke="#1272cc" stroke-width="0.55"/>
<circle cx="59.5" cy="50.8" r="1.4" fill="#fff" stroke="#1272cc" stroke-width="0.55"/>
<circle cx="3.8" cy="42.6" r="2.0" fill="#fff" stroke="#1272cc" stroke-width="0.55"/>
<circle cx="41.6" cy="57.7" r="1.6" fill="#fff" stroke="#1272cc" stroke-width="0.55"/>
<circle cx="24.7" cy="56.9" r="2.8" fill="#fff" stroke="#1272cc" stroke-width="0.55"/>
<circle cx="35.2" cy="50.0" r="1.6" fill="#fff" stroke="#1272cc" stroke-width="0.55"/>
<circle cx="46.6" cy="46.1" r="2.0" fill="#fff" stroke="#1272cc" stroke-width="0.55"/>
<circle cx="57.9" cy="51.7" r="2.0" fill="#fff" stroke="#1272cc" stroke-width="0.55"/>
<circle cx="48.5" cy="38.7" r="1.4" fill="#fff" stroke="#1272cc" stroke-width="0.55"/>
<circle cx="39.7" cy="39.3" r="1.6" fill="#fff" stroke="#1272cc" stroke-width="0.55"/>
<circle cx="61.3" cy="38.7" r="2.0" fill="#fff" stroke="#1272cc" stroke-width="0.55"/>
<circle cx="60.6" cy="41.2" r="2.0" fill="#fff" stroke="#1272cc" stroke-width="0.55"/>
<circle cx="19.6" cy="58.5" r="1.4" fill="#fff" stroke="#1272cc" stroke-width="0.55"/>
<circle cx="55.4" cy="49.7" r="2.0" fill="#fff" stroke="#1272cc" stroke-width="0.55"/>
<circle cx="59.4" cy="50.0" r="2.8" fill="#fff" stroke="#1272cc" stroke-width="0.55"/>
<circle cx="20.2" cy="43.3" r="2.0" fill="#fff" stroke="#1272cc" stroke-width="0.55"/>
<circle cx="59.1" cy="42.8" r="2.4" fill="#fff" stroke="#1272cc" stroke-width="0.55"/>
<circle cx="20.4" cy="49.5" r="1.6" fill="#fff" stroke="#1272cc" stroke-width="0.55"/>
<circle cx="38.4" cy="53.3" r="1.6" fill="#fff" stroke="#1272cc" stroke-width="0.55"/>
<circle cx="20.9" cy="55.1" r="2.8" fill="#fff" stroke="#1272cc" stroke-width="0.55"/>
<circle cx="44.5" cy="41.0" r="2.8" fill="#fff" stroke="#1272cc" stroke-width="0.55"/>
<circle cx="45.0" cy="38.1" r="1.6" fill="#fff" stroke="#1272cc" stroke-width="0.55"/>
<circle cx="59.9" cy="44.4" r="2.8" fill="#fff" stroke="#1272cc" stroke-width="0.55"/>
<circle cx="3.1" cy="49.5" r="2.4" fill="#fff" stroke="#1272cc" stroke-width="0.55"/>
<circle cx="25.0" cy="56.2" r="2.8" fill="#fff" stroke="#1272cc" stroke-width="0.55"/>
<circle cx="4.9" cy="36.5" r="2.0" fill="#fff" stroke="#1272cc" stroke-width="0.55"/>
<circle cx="9.3" cy="38.7" r="2.8" fill="#fff" stroke="#1272cc" stroke-width="0.55"/>
<circle cx="23.0" cy="43.5" r="1.4" fill="#fff" stroke="#1272cc" stroke-width="0.55"/>
<circle cx="17.3" cy="45.4" r="1.4" fill="#fff" stroke="#1272cc" stroke-width="0.55"/>
<circle cx="47.7" cy="54.5" r="2.4" fill="#fff" stroke="#1272cc" stroke-width="0.55"/>
<circle cx="4.2" cy="53.4" r="1.6" fill="#fff" stroke="#1272cc" stroke-width="0.55"/>
<circle cx="14.7" cy="46.2" r="2.4" fill="#fff" stroke="#1272cc" stroke-width="0.55"/>
<circle cx="58.0" cy="44.2" r="2.2" fill="#fff" stroke="#1272cc" stroke-width="0.55"/>
<circle cx="35.3" cy="43.5" r="2.4" fill="#fff" stroke="#1272cc" stroke-width="0.55"/>
<circle cx="20.7" cy="54.5" r="2.2" fill="#fff" stroke="#1272cc" stroke-width="0.55"/>
<circle cx="11.1" cy="49.7" r="2.8" fill="#fff" stroke="#1272cc" stroke-width="0.55"/>
<circle cx="11.9" cy="34.4" r="1.4" fill="#fff" stroke="#1272cc" stroke-width="0.55"/>
<circle cx="34.5" cy="45.8" r="2.0" fill="#fff" stroke="#1272cc" stroke-width="0.55"/>
<circle cx="47.2" cy="44.6" r="2.4" fill="#fff" stroke="#1272cc" stroke-width="0.55"/>
<circle cx="29.8" cy="45.9" r="1.6" fill="#fff" stroke="#1272cc" stroke-width="0.55"/>
<circle cx="61.7" cy="48.6" r="2.8" fill="#fff" stroke="#1272cc" stroke-width="0.55"/>
<circle cx="22.4" cy="39.6" r="2.2" fill="#fff" stroke="#1272cc" stroke-width="0.55"/>
<circle cx="36.4" cy="39.2" r="2.8" fill="#fff" stroke="#1272cc" stroke-width="0.55"/>
<circle cx="8.5" cy="43.0" r="2.0" fill="#fff" stroke="#1272cc" stroke-width="0.55"/>
<circle cx="5.6" cy="42.1" r="2.0" fill="#fff" stroke="#1272cc" stroke-width="0.55"/>
<circle cx="29.6" cy="60.6" r="2.0" fill="#fff" stroke="#1272cc" stroke-width="0.55"/>
<circle cx="61.5" cy="45.7" r="2.8" fill="#fff" stroke="#1272cc" stroke-width="0.55"/>
<circle cx="44.0" cy="44.0" r="2.4" fill="#fff" stroke="#1272cc" stroke-width="0.55"/>
<circle cx="19.8" cy="44.3" r="2.0" fill="#fff" stroke="#1272cc" stroke-width="0.55"/>
<circle cx="8.9" cy="52.3" r="1.4" fill="#fff" stroke="#1272cc" stroke-width="0.55"/>
<circle cx="60.5" cy="48.7" r="2.8" fill="#fff" stroke="#1272cc" stroke-width="0.55"/>
<circle cx="54.9" cy="41.3" r="2.8" fill="#fff" stroke="#1272cc" stroke-width="0.55"/>
<circle cx="18.6" cy="53.7" r="1.4" fill="#fff" stroke="#1272cc" stroke-width="0.55"/>
<circle cx="24.0" cy="54.7" r="2.4" fill="#fff" stroke="#1272cc" stroke-width="0.55"/>
<circle cx="44.4" cy="51.9" r="2.4" fill="#fff" stroke="#1272cc" stroke-width="0.55"/>
<circle cx="24.2" cy="52.6" r="2.4" fill="#fff" stroke="#1272cc" stroke-width="0.55"/>
<circle cx="52.9" cy="42.9" r="2.2" fill="#fff" stroke="#1272cc" stroke-width="0.55"/>
<circle cx="45.7" cy="58.4" r="2.4" fill="#fff" stroke="#1272cc" stroke-width="0.55"/>
<circle cx="41.6" cy="50.2" r="1.6" fill="#fff" stroke="#1272cc" stroke-width="0.55"/>
<circle cx="30.9" cy="54.9" r="2.4" fill="#fff" stroke="#1272cc" stroke-width="0.55"/>
<circle cx="43.0" cy="47.4" r="1.4" fill="#fff" stroke="#1272cc" stroke-width="0.55"/>
<circle cx="41.5" cy="55.3" r="2.4" fill="#fff" stroke="#1272cc" stroke-width="0.55"/>
<circle cx="18.7" cy="42.7" r="2.8" fill="#fff" stroke="#1272cc" stroke-width="0.55"/>
<circle cx="23.4" cy="56.0" r="2.2" fill="#fff" stroke="#1272cc" stroke-width="0.55"/>
<circle cx="29.4" cy="44.4" r="2.4" fill="#fff" stroke="#1272cc" stroke-width="0.55"/>
<circle cx="33.6" cy="48.9" r="2.0" fill="#fff" stroke="#1272cc" stroke-width="0.55"/>
<circle cx="14.1" cy="42.4" r="2.8" fill="#fff" stroke="#1272cc" stroke-width="0.55"/>
<circle cx="19.3" cy="36.0" r="2.2" fill="#fff" stroke="#1272cc" stroke-width="0.55"/>
<circle cx="46.6" cy="40.8" r="1.4" fill="#fff" stroke="#1272cc" stroke-width="0.55"/>
<circle cx="33.5" cy="59.1" r="2.4" fill="#fff" stroke="#1272cc" stroke-width="0.55"/>
<circle cx="40.0" cy="54.9" r="2.2" fill="#fff" stroke="#1272cc" stroke-width="0.55"/>
<circle cx="18.5" cy="59.1" r="2.0" fill="#fff" stroke="#1272cc" stroke-width="0.55"/>
<circle cx="11.8" cy="43.9" r="2.2" fill="#fff" stroke="#1272cc" stroke-width="0.55"/>
<circle cx="13.0" cy="51.9" r="2.0" fill="#fff" stroke="#1272cc" stroke-width="0.55"/>
<circle cx="40.5" cy="37.3" r="2.8" fill="#fff" stroke="#1272cc" stroke-width="0.55"/>
<circle cx="61.8" cy="41.2" r="2.0" fill="#fff" stroke="#1272cc" stroke-width="0.55"/>
<circle cx="8.8" cy="55.7" r="2.8" fill="#fff" stroke="#1272cc" stroke-width="0.55"/>
<circle cx="13.8" cy="34.3" r="2.8" fill="#fff" stroke="#1272cc" stroke-width="0.55"/>
<circle cx="23.4" cy="51.4" r="1.6" fill="#fff" stroke="#1272cc" stroke-width="0.55"/>
<circle cx="38.0" cy="41.9" r="2.4" fill="#fff" stroke="#1272cc" stroke-width="0.55"/>
<circle cx="2.0" cy="40.9" r="2.4" fill="#fff" stroke="#1272cc" stroke-width="0.55"/>
<circle cx="54.2" cy="54.6" r="2.2" fill="#fff" stroke="#1272cc" stroke-width="0.55"/>
<circle cx="52.7" cy="45.1" r="1.6" fill="#fff" stroke="#1272cc" stroke-width="0.55"/>
<circle cx="35.5" cy="43.3" r="2.4" fill="#fff" stroke="#1272cc" stroke-width="0.55"/>
<circle cx="35.3" cy="44.2" r="1.4" fill="#fff" stroke="#1272cc" stroke-width="0.55"/>
<circle cx="19.9" cy="43.0" r="2.0" fill="#fff" stroke="#1272cc" stroke-width="0.55"/>
<circle cx="27.6" cy="55.7" r="2.2" fill="#fff" stroke="#1272cc" stroke-width="0.55"/>
<circle cx="34.8" cy="47.4" r="2.0" fill="#fff" stroke="#1272cc" stroke-width="0.55"/>
<circle cx="38.4" cy="49.8" r="2.0" fill="#fff" stroke="#1272cc" stroke-width="0.55"/>
<circle cx="61.0" cy="48.3" r="2.4" fill="#fff" stroke="#1272cc" stroke-width="0.55"/>
<path d="M-1,30.4 Q5.4,32.6 10.8,31.6 Q16.2,30.6 21.7,32.8 Q27.1,35.0 32.5,34.0 Q37.9,32.9 43.3,35.1 Q48.8,37.3 54.2,36.3 Q59.6,35.3 65.0,37.5 " stroke="#f2b82c" stroke-width="1.5" fill="none"/>
<path d="M-1,35.8 Q5.4,38.0 10.8,37.0 Q16.2,36.0 21.7,38.2 Q27.1,40.4 32.5,39.3 Q37.9,38.3 43.3,40.5 Q48.8,42.7 54.2,41.7 Q59.6,40.7 65.0,42.9 " stroke="#f2b82c" stroke-width="1.5" fill="none"/>
<path d="M-1,41.2 Q5.4,43.4 10.8,42.4 Q16.2,41.4 21.7,43.6 Q27.1,45.8 32.5,44.8 Q37.9,43.7 43.3,45.9 Q48.8,48.1 54.2,47.1 Q59.6,46.1 65.0,48.3 " stroke="#f2b82c" stroke-width="1.5" fill="none"/>
<path d="M-1,46.6 Q5.4,48.8 10.8,47.8 Q16.2,46.8 21.7,49.0 Q27.1,51.2 32.5,50.2 Q37.9,49.1 43.3,51.3 Q48.8,53.5 54.2,52.5 Q59.6,51.5 65.0,53.7 " stroke="#f2b82c" stroke-width="1.5" fill="none"/>
<path d="M-1,52.0 Q5.4,54.2 10.8,53.2 Q16.2,52.2 21.7,54.4 Q27.1,56.6 32.5,55.5 Q37.9,54.5 43.3,56.7 Q48.8,58.9 54.2,57.9 Q59.6,56.9 65.0,59.1 " stroke="#f2b82c" stroke-width="1.5" fill="none"/>
</g>
<path d="M0,0 Q32.5,-8 65,0 L65,54.5 Q32.5,70.5 0,54.5 Z" fill="none" stroke="#000" stroke-width="2.2"/>
<path d="M33.2,-8.2 L33.2,13.8" stroke="#222" stroke-width="0.8" stroke-dasharray="2.2 1.3"/>
<path d="M38.4,0.4 A6.6,3.6 0 1 0 38.2,5.2" stroke="#222" stroke-width="1.2" fill="none"/>
<path d="M40.2,3.4 l-4,-1.8 l1.3,4.2 z" fill="#222"/>
</g>
<text class="b" font-size="8" style="fill:#2a90e8" transform="translate(191,134) rotate(14)">AlSi10Mg</text>
<text class="b" font-size="8" style="fill:#f0a626" transform="translate(195,143) rotate(16)">ethanol</text>
<text class="b" font-size="7.2" style="fill:#e8202a" transform="translate(228.5,139) rotate(8)">ZrO2/</text>
<text class="b" font-size="7.2" style="fill:#e8202a" transform="translate(229,147.5) rotate(8)">GNPs</text>
<text class="b" font-size="7.7" style="fill:#222" transform="translate(214.5,101.5) rotate(25)">autorotation</text>
<path d="M194,137 L187,145" stroke="#2a90e8" stroke-width="0.6"/><path d="M236,151 L237,160" stroke="#e8202a" stroke-width="0.6"/>
<text class="b" font-size="8" style="fill:#2a90e8" transform="translate(291,149) rotate(-22)">AlSi10Mg</text>
<text class="b" font-size="8" style="fill:#f0a626" transform="translate(299,155.5) rotate(-22)">ethanol</text>
<text class="b" font-size="7.2" style="fill:#e8202a" transform="translate(329.5,136) rotate(-8)">ZrO2/</text>
<text class="b" font-size="7.2" style="fill:#e8202a" transform="translate(331,144) rotate(-8)">GNPs</text>
<text class="b" font-size="7.7" style="fill:#222" transform="translate(289,119) rotate(-21)">autorotation</text>
<path d="M268.6,149 L268.6,218" stroke="#222" stroke-width="0.8" stroke-dasharray="3 1.6"/>
<path d="M257,163.5 C266,161.5 281,163 281,170.5 C281,177 268,178.5 259.5,178.5" stroke="#000" stroke-width="1.7" fill="none"/>
<polygon points="256.5,178.5 262,175 262,182" fill="#000"/>
<text class="b" font-size="7.9" style="fill:#333" x="252.2" y="192.4">revolution</text>
<rect x="265.8" y="201.2" width="5.8" height="4.5" fill="#fff" stroke="#000" stroke-width="1"/>
<rect x="259.8" y="205.6" width="17.6" height="16.6" fill="#fff" stroke="#000" stroke-width="1.6"/>
<path d="M259.8,214 L277.4,214 M263.5,207 L263.5,213.5 M266.5,207 L266.5,213.5 M270.5,207 L270.5,213.5 M273.6,207 L273.6,213.5" stroke="#000" stroke-width="1" fill="none"/>
<path d="M268.6,201 L268.6,219" stroke="#222" stroke-width="0.7" stroke-dasharray="2 1.2"/>
</g>
<polygon points="485.7,128.5 532.6,208.8 439,208.8" fill="url(#pTri)"/>
<polygon points="492.4,139.4 503.0,130.1 500.0,126.7 512.6,126.6 510.9,139.1 507.9,135.6 497.2,145.0" fill="url(#gSmall)" />
<circle cx="533.1" cy="106.6" r="30.4" fill="url(#gMix)"/>
<polygon points="512.9,88.9 523.3,81.6 537.8,84.7 527.4,93.1" fill="#148cee" />
<polygon points="547.2,85.8 558.6,92.0 556.1,108.6 547.2,101.4" fill="#148cee" />
<polygon points="502.9,108.6 517.0,107.6 524.3,119.0 508.7,120.1" fill="#148cee" />
<polygon points="537.4,121.1 550.3,114.9 551.3,126.3 538.2,134.6" fill="#148cee" />
<ellipse cx="524.7" cy="86.4" rx="3.4" ry="3" fill="#8a28a0"/>
<ellipse cx="544.0" cy="82.3" rx="3.4" ry="3" fill="#8a28a0"/>
<ellipse cx="514.5" cy="97.8" rx="3.4" ry="3" fill="#8a28a0"/>
<ellipse cx="537.8" cy="99.3" rx="3.4" ry="3" fill="#8a28a0"/>
<ellipse cx="553.4" cy="98.3" rx="3.4" ry="3" fill="#8a28a0"/>
<ellipse cx="513.3" cy="112.4" rx="3.4" ry="3" fill="#8a28a0"/>
<ellipse cx="529.1" cy="111.1" rx="3.4" ry="3" fill="#8a28a0"/>
<ellipse cx="555.1" cy="113.8" rx="3.4" ry="3" fill="#8a28a0"/>
<ellipse cx="543.6" cy="125.3" rx="3.4" ry="3" fill="#8a28a0"/>
<ellipse cx="525.3" cy="128.8" rx="3.4" ry="3" fill="#8a28a0"/>
<path d="M543.4,199.0 C545.3,199.2 551.4,199.5 555.0,200.5 C558.6,201.5 561.1,201.2 565.0,205.0 C568.9,208.8 575.3,216.3 578.5,223.0 C581.7,229.7 583.4,238.8 584.3,245.0 C585.1,251.2 584.4,254.7 583.6,260.0 C582.8,265.3 581.3,271.5 579.5,276.6 C577.7,281.7 575.4,286.7 572.6,290.5 C569.8,294.3 565.9,297.5 562.7,299.5 C559.6,301.5 555.2,301.8 553.7,302.3 L552.7,307.8 L543.6,300.2 L553,289.1 L553.7,293.3 C555.2,292.7 559.6,291.9 562.7,289.8 C565.8,287.7 569.5,284.4 572.2,280.8 C574.9,277.2 577.1,272.1 578.8,268.3 C580.4,264.5 581.5,261.6 582.1,258.0 C582.7,254.4 583.7,251.8 582.6,247.0 C581.5,242.2 578.9,234.8 575.5,229.0 C572.1,223.2 565.8,216.0 562.0,212.5 C558.2,209.0 556.1,209.0 553.0,208.0 C549.9,207.0 545.0,206.8 543.4,206.5 Z" fill="url(#gCurve)"/>
<g id="lpbf">
<rect x="425.1" y="337.1" width="5" height="58.4" fill="#636363"/>
<rect x="425.1" y="356.5" width="75.5" height="5.3" fill="#636363"/>
<rect x="430" y="337.1" width="22" height="19.4" fill="url(#pPow)"/>
<rect x="452" y="337.1" width="18" height="19.4" fill="#757575"/>
<rect x="469.9" y="337.1" width="25.5" height="19.4" fill="url(#pPow)"/>
<rect x="457.8" y="361.7" width="7.8" height="33.4" fill="#636363"/>
<rect x="495.3" y="337.1" width="5.5" height="58.4" fill="#636363"/>
<rect x="500.8" y="337.1" width="27" height="10.2" fill="url(#pPow)"/>
<rect x="500.8" y="347.2" width="27" height="5.3" fill="#636363"/>
<rect x="527.7" y="337.1" width="5.3" height="58.4" fill="#636363"/>
<rect x="510.3" y="352.4" width="8.7" height="42.8" fill="#636363"/>
<polygon points="464.1,282.2 472.2,282.2 468.6,338.6 466.8,338.6" fill="url(#gLaser)"/>
<ellipse cx="467.7" cy="338.5" rx="3" ry="2.2" fill="#ffb0b4"/>
<rect x="460.6" y="330.5" width="14.5" height="13.8" fill="none" stroke="#111" stroke-width="1.1" stroke-dasharray="3.2 1.8"/>
<path d="M460.6,330.5 L337.8,316.5 M460.6,344.3 L337.8,394" stroke="#111" stroke-width="1.2" stroke-dasharray="5 3" fill="none"/>
<path d="M459.5,338 L462.3,343.8 L468.5,342 M462.3,343.8 L460.5,347" stroke="#111" stroke-width="1.1" fill="none"/>
<path d="M499,318.9 L516.5,318.9" stroke="#14a03c" stroke-width="1.6"/>
<polygon points="495.6,318.9 501.5,315.6 501.5,322.2" fill="#14a03c"/><polygon points="519.9,318.9 514,315.6 514,322.2" fill="#14a03c"/>
<polygon points="503.1,325.6 514.7,325.6 508.9,336.7" fill="#1c4ea8"/>
</g>
<g id="melt">
<rect x="225.1" y="316.9" width="112.3" height="77.6" fill="url(#gMelt)" stroke="#2c4f9c" stroke-width="0.9"/>
<path d="M236.7,317.2 L336.3,316.3 C335.8,325.6 329.1,340.0 319.0,352.4 C313.2,360.2 306.9,365.1 298.8,364.0 C290.7,361.7 269.9,347.8 258.3,340.3 C246.8,332.8 238.1,324.1 236.7,317.2 Z" fill="url(#gPink)" stroke="#dc3aa2" stroke-width="3" stroke-linejoin="round"/>
<polygon points="296.5,319.8 300.3,316.0 306.9,318.0 303.1,321.8" fill="#1a90ee" />
<polygon points="248.8,326.5 252.6,322.7 259.2,324.7 255.4,328.5" fill="#1a90ee" />
<polygon points="263.2,327.9 267.0,324.1 273.6,326.1 269.8,329.9" fill="#1a90ee" />
<polygon points="312.4,327.9 316.2,324.1 322.8,326.1 319.0,329.9" fill="#1a90ee" />
<polygon points="280.6,333.7 284.4,329.9 291.0,331.9 287.2,335.7" fill="#1a90ee" />
<polygon points="279.1,347.5 282.9,343.7 289.5,345.7 285.7,349.5" fill="#1a90ee" />
<polygon points="306.6,342.9 310.4,339.1 317.0,341.1 313.2,344.9" fill="#1a90ee" />
<polygon points="295.0,358.2 298.8,354.4 305.4,356.4 301.6,360.2" fill="#1a90ee" />
<ellipse cx="261.2" cy="329.0" rx="3" ry="2.7" fill="#8a28a8"/>
<ellipse cx="284.3" cy="326.4" rx="3" ry="2.7" fill="#8a28a8"/>
<ellipse cx="301.7" cy="325.6" rx="3" ry="2.7" fill="#8a28a8"/>
<ellipse cx="269.9" cy="335.1" rx="3" ry="2.7" fill="#8a28a8"/>
<ellipse cx="315.5" cy="334.2" rx="3" ry="2.7" fill="#8a28a8"/>
<ellipse cx="297.3" cy="346.6" rx="3" ry="2.7" fill="#8a28a8"/>
<ellipse cx="307.4" cy="347.2" rx="3" ry="2.7" fill="#8a28a8"/>
<ellipse cx="287.8" cy="353.0" rx="3" ry="2.7" fill="#8a28a8"/>
<path d="M291.6,344.3 C292.4,332.8 295.9,318.3 276.2,318.6" stroke="#000" stroke-width="1.8" fill="none" marker-end="url(#ah)"/>
<path d="M272.8,318.9 L242.4,318.6 C237.5,318.6 237.5,322.7 242.4,326.4 L275.1,344.9" stroke="#000" stroke-width="1.8" fill="none" marker-end="url(#ah)"/>
<path d="M301.7,350.7 L304.8,331.3" stroke="#000" stroke-width="1.8" fill="none" marker-end="url(#ah)"/>
<path d="M307.4,332.8 C308.0,318.3 314.7,316.9 322.5,317.8 C329.1,318.9 327.7,332.8 323.0,342.0" stroke="#000" stroke-width="1.8" fill="none" marker-end="url(#ah)"/>
<path d="M322.5,343.8 L311.2,357.6" stroke="#000" stroke-width="1.8" fill="none"/>
<polygon points="295.9,283.7 308.9,283.7 303.2,315.6 301.8,315.6" fill="url(#gLaser)"/>
<path d="M316.4,304.5 L332,304.5" stroke="#14a03c" stroke-width="1.5"/><polygon points="336.8,304.5 330.8,301.4 330.8,307.6" fill="#14a03c"/>
</g>
<g id="micro">
<rect x="51.1" y="322.1" width="110" height="73.2" fill="url(#gMicro)"/>
<path d="M52.6,322.8 A53.5,63 0 0 0 159.6,322.8 Z" fill="#dccbee"/>
<g clip-path="url(#semiClip)">
<polygon points="55.8,343.2 57.6,339.6 62.3,339.7 60.4,343.3" fill="#1b9cf2" />
<ellipse cx="64.3" cy="340.4" rx="2.3" ry="2.1" fill="#8a2aa8"/>
<polygon points="66.4,341.1 68.2,337.5 72.9,337.6 71.0,341.2" fill="#1b9cf2" />
<ellipse cx="74.9" cy="338.3" rx="2.3" ry="2.1" fill="#8a2aa8"/>
<ellipse cx="63.3" cy="352.7" rx="2.3" ry="2.1" fill="#8a2aa8"/>
<polygon points="65.0,352.2 66.8,348.6 71.5,348.7 69.6,352.3" fill="#1b9cf2" />
<ellipse cx="73.2" cy="348.2" rx="2.3" ry="2.1" fill="#8a2aa8"/>
<polygon points="74.8,347.8 76.7,344.2 81.3,344.3 79.5,347.9" fill="#1b9cf2" />
<ellipse cx="83.0" cy="343.8" rx="2.3" ry="2.1" fill="#8a2aa8"/>
<polygon points="66.2,364.3 68.0,360.7 72.7,360.8 70.8,364.4" fill="#1b9cf2" />
<ellipse cx="73.7" cy="359.3" rx="2.3" ry="2.1" fill="#8a2aa8"/>
<polygon points="74.8,357.8 76.7,354.2 81.3,354.3 79.4,357.9" fill="#1b9cf2" />
<ellipse cx="82.4" cy="352.8" rx="2.3" ry="2.1" fill="#8a2aa8"/>
<polygon points="83.4,351.3 85.3,347.7 89.9,347.8 88.1,351.4" fill="#1b9cf2" />
<ellipse cx="77.1" cy="370.7" rx="2.3" ry="2.1" fill="#8a2aa8"/>
<polygon points="77.3,368.3 79.1,364.7 83.8,364.8 81.9,368.4" fill="#1b9cf2" />
<ellipse cx="83.9" cy="362.3" rx="2.3" ry="2.1" fill="#8a2aa8"/>
<polygon points="84.1,359.9 86.0,356.3 90.6,356.4 88.7,360.0" fill="#1b9cf2" />
<ellipse cx="90.8" cy="354.0" rx="2.3" ry="2.1" fill="#8a2aa8"/>
<polygon points="82.7,378.5 84.5,374.9 89.2,375.0 87.3,378.6" fill="#1b9cf2" />
<ellipse cx="88.1" cy="371.8" rx="2.3" ry="2.1" fill="#8a2aa8"/>
<polygon points="87.0,368.6 88.9,365.0 93.5,365.1 91.7,368.7" fill="#1b9cf2" />
<ellipse cx="92.5" cy="361.9" rx="2.3" ry="2.1" fill="#8a2aa8"/>
<polygon points="91.4,358.7 93.2,355.1 97.9,355.2 96.0,358.8" fill="#1b9cf2" />
<ellipse cx="96.8" cy="352.0" rx="2.3" ry="2.1" fill="#8a2aa8"/>
<ellipse cx="95.6" cy="380.5" rx="2.3" ry="2.1" fill="#8a2aa8"/>
<polygon points="93.1,376.9 95.0,373.3 99.6,373.4 97.8,377.0" fill="#1b9cf2" />
<ellipse cx="97.2" cy="369.9" rx="2.3" ry="2.1" fill="#8a2aa8"/>
<polygon points="94.8,366.3 96.6,362.7 101.3,362.8 99.4,366.4" fill="#1b9cf2" />
<ellipse cx="98.8" cy="359.2" rx="2.3" ry="2.1" fill="#8a2aa8"/>
<polygon points="96.4,355.6 98.3,352.0 102.9,352.1 101.0,355.7" fill="#1b9cf2" />
<ellipse cx="100.5" cy="348.5" rx="2.3" ry="2.1" fill="#8a2aa8"/>
<polygon points="102.8,383.6 104.7,380.0 109.3,380.1 107.5,383.7" fill="#1b9cf2" />
<ellipse cx="106.1" cy="376.5" rx="2.3" ry="2.1" fill="#8a2aa8"/>
<polygon points="102.8,372.8 104.7,369.2 109.3,369.3 107.5,372.9" fill="#1b9cf2" />
<ellipse cx="106.1" cy="365.7" rx="2.3" ry="2.1" fill="#8a2aa8"/>
<polygon points="102.8,362.0 104.7,358.4 109.3,358.5 107.4,362.1" fill="#1b9cf2" />
<ellipse cx="106.0" cy="354.9" rx="2.3" ry="2.1" fill="#8a2aa8"/>
<polygon points="102.8,351.2 104.6,347.6 109.3,347.7 107.4,351.3" fill="#1b9cf2" />
<ellipse cx="106.0" cy="344.1" rx="2.3" ry="2.1" fill="#8a2aa8"/>
<polygon points="102.8,340.4 104.6,336.8 109.3,336.9 107.4,340.5" fill="#1b9cf2" />
<ellipse cx="106.0" cy="333.3" rx="2.3" ry="2.1" fill="#8a2aa8"/>
<ellipse cx="117.4" cy="380.3" rx="2.3" ry="2.1" fill="#8a2aa8"/>
<polygon points="113.7,376.7 115.6,373.1 120.2,373.2 118.4,376.8" fill="#1b9cf2" />
<ellipse cx="116.6" cy="369.5" rx="2.3" ry="2.1" fill="#8a2aa8"/>
<polygon points="113.0,365.9 114.9,362.3 119.5,362.4 117.7,366.0" fill="#1b9cf2" />
<ellipse cx="115.9" cy="358.8" rx="2.3" ry="2.1" fill="#8a2aa8"/>
<polygon points="112.3,355.1 114.1,351.5 118.8,351.6 116.9,355.2" fill="#1b9cf2" />
<ellipse cx="115.2" cy="348.0" rx="2.3" ry="2.1" fill="#8a2aa8"/>
<polygon points="111.5,344.4 113.4,340.8 118.0,340.9 116.2,344.4" fill="#1b9cf2" />
<ellipse cx="114.4" cy="337.2" rx="2.3" ry="2.1" fill="#8a2aa8"/>
<polygon points="110.8,333.6 112.7,330.0 117.3,330.1 115.5,333.7" fill="#1b9cf2" />
<ellipse cx="113.7" cy="326.4" rx="2.3" ry="2.1" fill="#8a2aa8"/>
<polygon points="124.9,377.8 126.8,374.2 131.4,374.3 129.6,377.8" fill="#1b9cf2" />
<ellipse cx="127.5" cy="370.6" rx="2.3" ry="2.1" fill="#8a2aa8"/>
<polygon points="123.7,367.0 125.5,363.4 130.2,363.5 128.3,367.1" fill="#1b9cf2" />
<ellipse cx="126.3" cy="359.9" rx="2.3" ry="2.1" fill="#8a2aa8"/>
<polygon points="122.4,356.3 124.3,352.7 128.9,352.8 127.0,356.4" fill="#1b9cf2" />
<ellipse cx="125.0" cy="349.2" rx="2.3" ry="2.1" fill="#8a2aa8"/>
<polygon points="121.1,345.6 123.0,342.0 127.6,342.1 125.8,345.7" fill="#1b9cf2" />
<ellipse cx="123.8" cy="338.5" rx="2.3" ry="2.1" fill="#8a2aa8"/>
<polygon points="119.9,334.9 121.7,331.3 126.4,331.3 124.5,334.9" fill="#1b9cf2" />
<ellipse cx="122.5" cy="327.7" rx="2.3" ry="2.1" fill="#8a2aa8"/>
<ellipse cx="137.5" cy="369.3" rx="2.3" ry="2.1" fill="#8a2aa8"/>
<polygon points="133.4,365.7 135.3,362.1 139.9,362.2 138.1,365.8" fill="#1b9cf2" />
<ellipse cx="135.8" cy="358.6" rx="2.3" ry="2.1" fill="#8a2aa8"/>
<polygon points="131.7,355.1 133.5,351.5 138.2,351.5 136.3,355.1" fill="#1b9cf2" />
<ellipse cx="134.0" cy="348.0" rx="2.3" ry="2.1" fill="#8a2aa8"/>
<polygon points="129.9,344.4 131.8,340.8 136.4,340.9 134.5,344.5" fill="#1b9cf2" />
<ellipse cx="132.3" cy="337.3" rx="2.3" ry="2.1" fill="#8a2aa8"/>
<polygon points="128.1,333.7 130.0,330.1 134.6,330.2 132.8,333.8" fill="#1b9cf2" />
<ellipse cx="130.5" cy="326.7" rx="2.3" ry="2.1" fill="#8a2aa8"/>
<polygon points="142.2,362.1 144.1,358.5 148.7,358.6 146.9,362.2" fill="#1b9cf2" />
<ellipse cx="144.3" cy="355.1" rx="2.3" ry="2.1" fill="#8a2aa8"/>
<polygon points="140.0,351.6 141.8,348.0 146.5,348.1 144.6,351.7" fill="#1b9cf2" />
<ellipse cx="142.1" cy="344.6" rx="2.3" ry="2.1" fill="#8a2aa8"/>
<polygon points="137.7,341.0 139.5,337.4 144.2,337.5 142.3,341.1" fill="#1b9cf2" />
<ellipse cx="139.8" cy="334.0" rx="2.3" ry="2.1" fill="#8a2aa8"/>
<polygon points="135.4,330.5 137.2,326.9 141.9,327.0 140.0,330.6" fill="#1b9cf2" />
<ellipse cx="151.7" cy="349.7" rx="2.3" ry="2.1" fill="#8a2aa8"/>
<polygon points="147.0,346.3 148.9,342.7 153.5,342.7 151.7,346.3" fill="#1b9cf2" />
<ellipse cx="148.8" cy="339.3" rx="2.3" ry="2.1" fill="#8a2aa8"/>
<polygon points="144.1,335.8 146.0,332.2 150.7,332.3 148.8,335.9" fill="#1b9cf2" />
<ellipse cx="146.0" cy="328.9" rx="2.3" ry="2.1" fill="#8a2aa8"/>
<polygon points="152.6,339.5 154.4,335.9 159.1,336.0 157.2,339.5" fill="#1b9cf2" />
<ellipse cx="154.1" cy="332.6" rx="2.3" ry="2.1" fill="#8a2aa8"/>
<polygon points="149.1,329.2 151.0,325.6 155.6,325.7 153.7,329.3" fill="#1b9cf2" />
<polygon points="53.7,328.7 55.6,325.1 60.3,325.1 58.4,328.7" fill="#1b9cf2" />
<ellipse cx="63.0" cy="328.1" rx="2.3" ry="2.1" fill="#8a2aa8"/>
<polygon points="65.7,329.9 67.6,326.3 72.3,326.3 70.4,329.9" fill="#1b9cf2" />
<ellipse cx="75.5" cy="327.5" rx="2.3" ry="2.1" fill="#8a2aa8"/>
<polygon points="78.7,329.3 80.6,325.7 85.3,325.7 83.4,329.3" fill="#1b9cf2" />
<ellipse cx="88.0" cy="326.9" rx="2.3" ry="2.1" fill="#8a2aa8"/>
<polygon points="90.7,328.7 92.6,325.1 97.3,325.1 95.4,328.7" fill="#1b9cf2" />
<ellipse cx="100.0" cy="328.1" rx="2.3" ry="2.1" fill="#8a2aa8"/>
<polygon points="74.7,334.2 76.6,330.6 81.3,330.6 79.4,334.2" fill="#1b9cf2" />
<ellipse cx="84.5" cy="333.6" rx="2.3" ry="2.1" fill="#8a2aa8"/>
<polygon points="87.7,335.4 89.6,331.8 94.3,331.8 92.4,335.4" fill="#1b9cf2" />
<ellipse cx="97.0" cy="333.0" rx="2.3" ry="2.1" fill="#8a2aa8"/>
<polygon points="88.7,343.3 90.6,339.7 95.3,339.7 93.4,343.3" fill="#1b9cf2" />
<ellipse cx="97.8" cy="343.6" rx="2.3" ry="2.1" fill="#8a2aa8"/>
<polygon points="91.7,349.4 93.6,345.8 98.3,345.8 96.4,349.4" fill="#1b9cf2" />
<ellipse cx="79.0" cy="337.5" rx="2.3" ry="2.1" fill="#8a2aa8"/>
<ellipse cx="60.0" cy="337.5" rx="2.3" ry="2.1" fill="#8a2aa8"/>
<polygon points="63.2,339.1 65.1,335.5 69.8,335.5 67.9,339.1" fill="#1b9cf2" />
<path d="M53.8,335.9 Q63.9,336.8 74.0,335.0 M57.2,348.4 Q71.0,345.5 84.0,340.0 M62.8,359.8 Q76.1,353.6 88.0,345.0 M70.3,369.6 Q82.1,360.3 92.0,349.0 M79.4,377.4 Q88.9,364.9 96.0,351.0 M89.6,382.7 Q95.6,366.7 99.0,350.0 M100.5,385.5 Q103.2,362.8 103.0,340.0 M111.7,385.5 Q109.1,354.5 109.0,323.5 M123.5,382.4 Q119.6,353.0 118.0,323.5 M133.7,376.8 Q128.6,350.3 126.0,323.5 M142.6,368.9 Q137.1,346.4 134.0,323.5 M149.9,358.9 Q144.3,341.5 141.0,323.5 M155.3,347.4 Q150.5,335.8 148.0,323.5 M158.6,334.8 Q155.2,329.6 154.0,323.5 M54.3,335.9 Q64,333.5 74,335 Q82,335 90,337 Q97,337 103,340 M68,323 Q70,330 74,335 M84,323 Q86,331 90,337 M97,323 Q99,332 103,340 M84,340 L90,337 M103,340 Q106,333 105,323" stroke="#4a4450" stroke-width="3" fill="none" stroke-linecap="round"/>
<path d="M53.8,335.9 Q63.9,336.8 74.0,335.0 M57.2,348.4 Q71.0,345.5 84.0,340.0 M62.8,359.8 Q76.1,353.6 88.0,345.0 M70.3,369.6 Q82.1,360.3 92.0,349.0 M79.4,377.4 Q88.9,364.9 96.0,351.0 M89.6,382.7 Q95.6,366.7 99.0,350.0 M100.5,385.5 Q103.2,362.8 103.0,340.0 M111.7,385.5 Q109.1,354.5 109.0,323.5 M123.5,382.4 Q119.6,353.0 118.0,323.5 M133.7,376.8 Q128.6,350.3 126.0,323.5 M142.6,368.9 Q137.1,346.4 134.0,323.5 M149.9,358.9 Q144.3,341.5 141.0,323.5 M155.3,347.4 Q150.5,335.8 148.0,323.5 M158.6,334.8 Q155.2,329.6 154.0,323.5 M54.3,335.9 Q64,333.5 74,335 Q82,335 90,337 Q97,337 103,340 M68,323 Q70,330 74,335 M84,323 Q86,331 90,337 M97,323 Q99,332 103,340 M84,340 L90,337 M103,340 Q106,333 105,323" stroke="#f8f4fc" stroke-width="1.5" fill="none" stroke-linecap="round"/>
</g>
<path d="M52.6,322.8 A53.5,63 0 0 0 159.6,322.8" fill="none" stroke="#4a4450" stroke-width="3"/>
<path d="M52.6,322.8 A53.5,63 0 0 0 159.6,322.8" fill="none" stroke="#f8f4fc" stroke-width="1.5"/>
<rect x="51.1" y="321.6" width="110" height="1.7" fill="#222"/>
<rect x="57.0" y="330.2" width="9.6" height="3.7" fill="#151515"/>
<rect x="70.5" y="338.8" width="9.6" height="3.6" fill="#151515"/>
<rect x="113.5" y="335.1" width="7.9" height="3.0" fill="#151515"/>
<rect x="142.3" y="324.9" width="6.4" height="2.6" fill="#151515"/>
<rect x="99.2" y="349.4" width="6.4" height="2.6" fill="#151515"/>
<rect x="100.3" y="364.3" width="2.6" height="6.4" fill="#151515"/>
<rect x="120.1" y="355.8" width="2.6" height="6.4" fill="#151515"/>
<rect x="128.2" y="336.6" width="2.8" height="7.4" fill="#151515" transform="rotate(-12 129.5 340)"/>
</g>
<rect x="56.7" y="290.2" width="9.1" height="3.6" fill="#151515"/>
<polygon points="113.3,292.7 119.9,289.3 126.5,292.7 119.9,296.1" fill="#1a90ee"/>
<ellipse cx="62.1" cy="311.9" rx="3.1" ry="2.9" fill="#8a28a8"/>
<g id="labels" font-size="15.8" stroke="#161616" stroke-width="0.34">
  <text x="61.6" y="143.3">GNPs</text>
  <text x="53" y="246.5">Nono-ZrO<tspan font-size="10.4" dy="3.2">2</tspan></text>
  <text x="362" y="88.4">Drying at 80 °C</text>
  <text x="362" y="104.3">for 6 hours and</text>
  <text x="362" y="119.9">120 °C for 10</text>
  <text x="362" y="135.6">hours</text>
  <text x="485.9" y="69">Mixing particles</text>
  <text x="418" y="227.2">GNPs/ZrO<tspan font-size="10.4" dy="3.2">2</tspan><tspan dy="-3.2">/AlSi10Mg</tspan></text>
  <text x="418" y="243" word-spacing="-1.5">mixing powder</text>
  <text x="473.8" y="297">Laser</text>
  <text x="518.6" y="333.6">Scraper</text>
  <text x="436" y="418">L-PBF process</text>
  <text x="250" y="418">Melt pool</text>
  <text x="57.8" y="418">Microstructure</text>
  <text x="315.2" y="293.8">Scanning</text>
  <text x="220" y="298.1">Marangoni</text>
  <text x="220.2" y="312">convection</text>
  <text x="236" y="358.2">Melt</text>
  <text x="241.6" y="386.2">solidification</text>
  <text x="70.7" y="297.1">Al<tspan font-size="10.4" dy="3.2">4</tspan><tspan dy="-3.2">C</tspan><tspan font-size="10.4" dy="3.2">3</tspan></text>
  <text x="129.7" y="297.1">GNPs</text>
  <text x="70" y="315.6">ZrO<tspan font-size="10.4" dy="3.2">2</tspan></text>
</g>
</g>
</svg>
</body>
</html>
